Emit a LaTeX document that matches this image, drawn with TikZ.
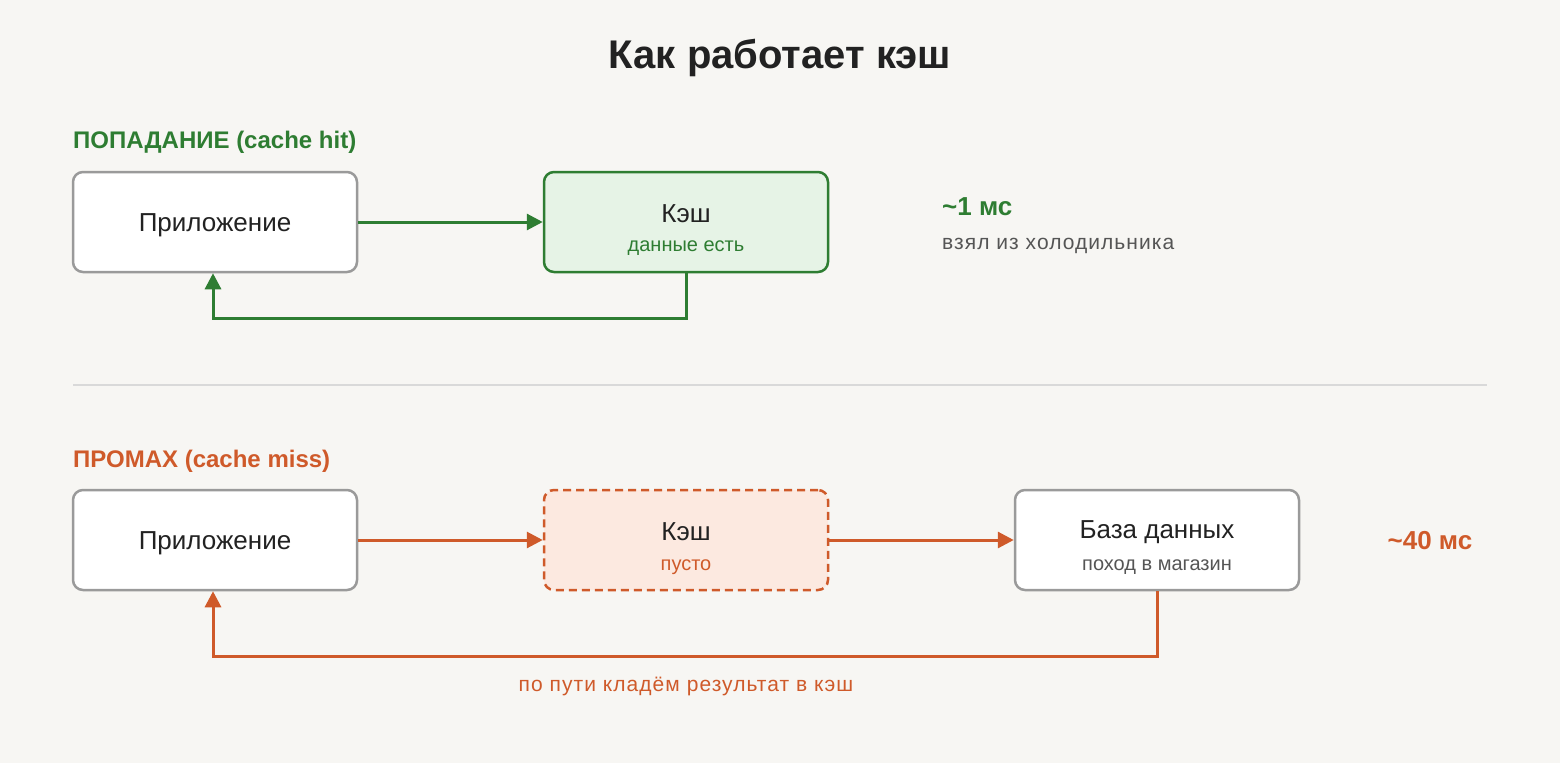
\documentclass[tikz,border=0pt]{standalone}
\usepackage{fontspec}
\setmainfont{Liberation Sans}
\usetikzlibrary{arrows.meta}
\definecolor{bg}{HTML}{F7F6F3}
\definecolor{gr}{HTML}{2E7D32}
\definecolor{grf}{HTML}{E6F3E6}
\definecolor{orr}{HTML}{CF5A2A}
\definecolor{orf}{HTML}{FCE9E0}
\definecolor{bd}{HTML}{9A9A9A}
\definecolor{tx}{HTML}{222222}
\definecolor{sub}{HTML}{555555}
\begin{document}
\begin{tikzpicture}[x=1pt,y=-1pt,
 box/.style={draw=bd,line width=2.5pt,rounded corners=10pt,fill=white,minimum width=284pt,minimum height=100pt,inner sep=0pt},
 main/.style={font=\fontsize{26}{30}\selectfont,text=tx},
 subt/.style={font=\fontsize{20}{24}\selectfont},
 wide/.style={font=\fontsize{21}{24}\selectfont\addfontfeature{LetterSpace=5}},
 ga/.style={gr,line width=3pt,-{Triangle[length=16pt,width=16pt]}},
 oa/.style={orr,line width=3pt,-{Triangle[length=16pt,width=16pt]}}]
\fill[bg] (0,0) rectangle (1560,763);
\node[font=\bfseries\fontsize{40}{46}\selectfont,text=tx] (title) at (780,58) {Как работает кэш};
\node[anchor=west,font=\bfseries\fontsize{24}{28}\selectfont,text=gr,inner sep=0pt] (hit) at (73,142) {ПОПАДАНИЕ (cache hit)};
\node[box] (app1) at (215,222) {};
\node[main] (app1t) at (215,225) {Приложение};
\node[box,draw=gr,fill=grf] (c1) at (686,222) {};
\node[main] (c1t) at (686,214) {Кэш};
\node[subt,text=gr] (c1s) at (686,248) {данные есть};
\draw[ga] (app1.east) -- (c1.west);
\coordinate (r1) at (686,318);
\coordinate (r2) at (213,318);
\draw[ga] (c1.south) -- (r1) -- (r2) -- (app1.south-|r2);
\node[anchor=west,font=\bfseries\fontsize{26}{30}\selectfont,text=gr,inner sep=0pt] (t1) at (942,207) {\textasciitilde1 мс};
\node[anchor=west,wide,text=sub,inner sep=0pt] (t1s) at (942,246) {взял из холодильника};
\draw[draw=black!15,line width=2pt] (73,385) coordinate (s1) -- (1487,385) coordinate (s2);
\node[anchor=west,font=\bfseries\fontsize{24}{28}\selectfont,text=orr,inner sep=0pt] (miss) at (73,461) {ПРОМАХ (cache miss)};
\node[box] (app2) at (215,540) {};
\node[main] (app2t) at (215,543) {Приложение};
\node[box,draw=orr,fill=orf,dashed,dash pattern=on 8pt off 5pt] (c2) at (686,540) {};
\node[main] (c2t) at (686,532) {Кэш};
\node[subt,text=orr] (c2s) at (686,567) {пусто};
\node[box] (db) at (1157,540) {};
\node[main] (dbt) at (1157,532) {База данных};
\node[subt,text=sub] (dbs) at (1157,567) {поход в магазин};
\draw[oa] (app2.east) -- (c2.west);
\draw[oa] (c2.east) -- (db.west);
\coordinate (q1) at (1157,656);
\coordinate (q2) at (213,656);
\draw[oa] (db.south) -- (q1) -- (q2) -- (app2.south-|q2);
\node[wide,text=orr] (ql) at (686,686) {по пути кладём результат в кэш};
\node[font=\bfseries\fontsize{26}{30}\selectfont,text=orr] (t2) at (1430,541) {\textasciitilde40 мс};
\end{tikzpicture}
\end{document}
